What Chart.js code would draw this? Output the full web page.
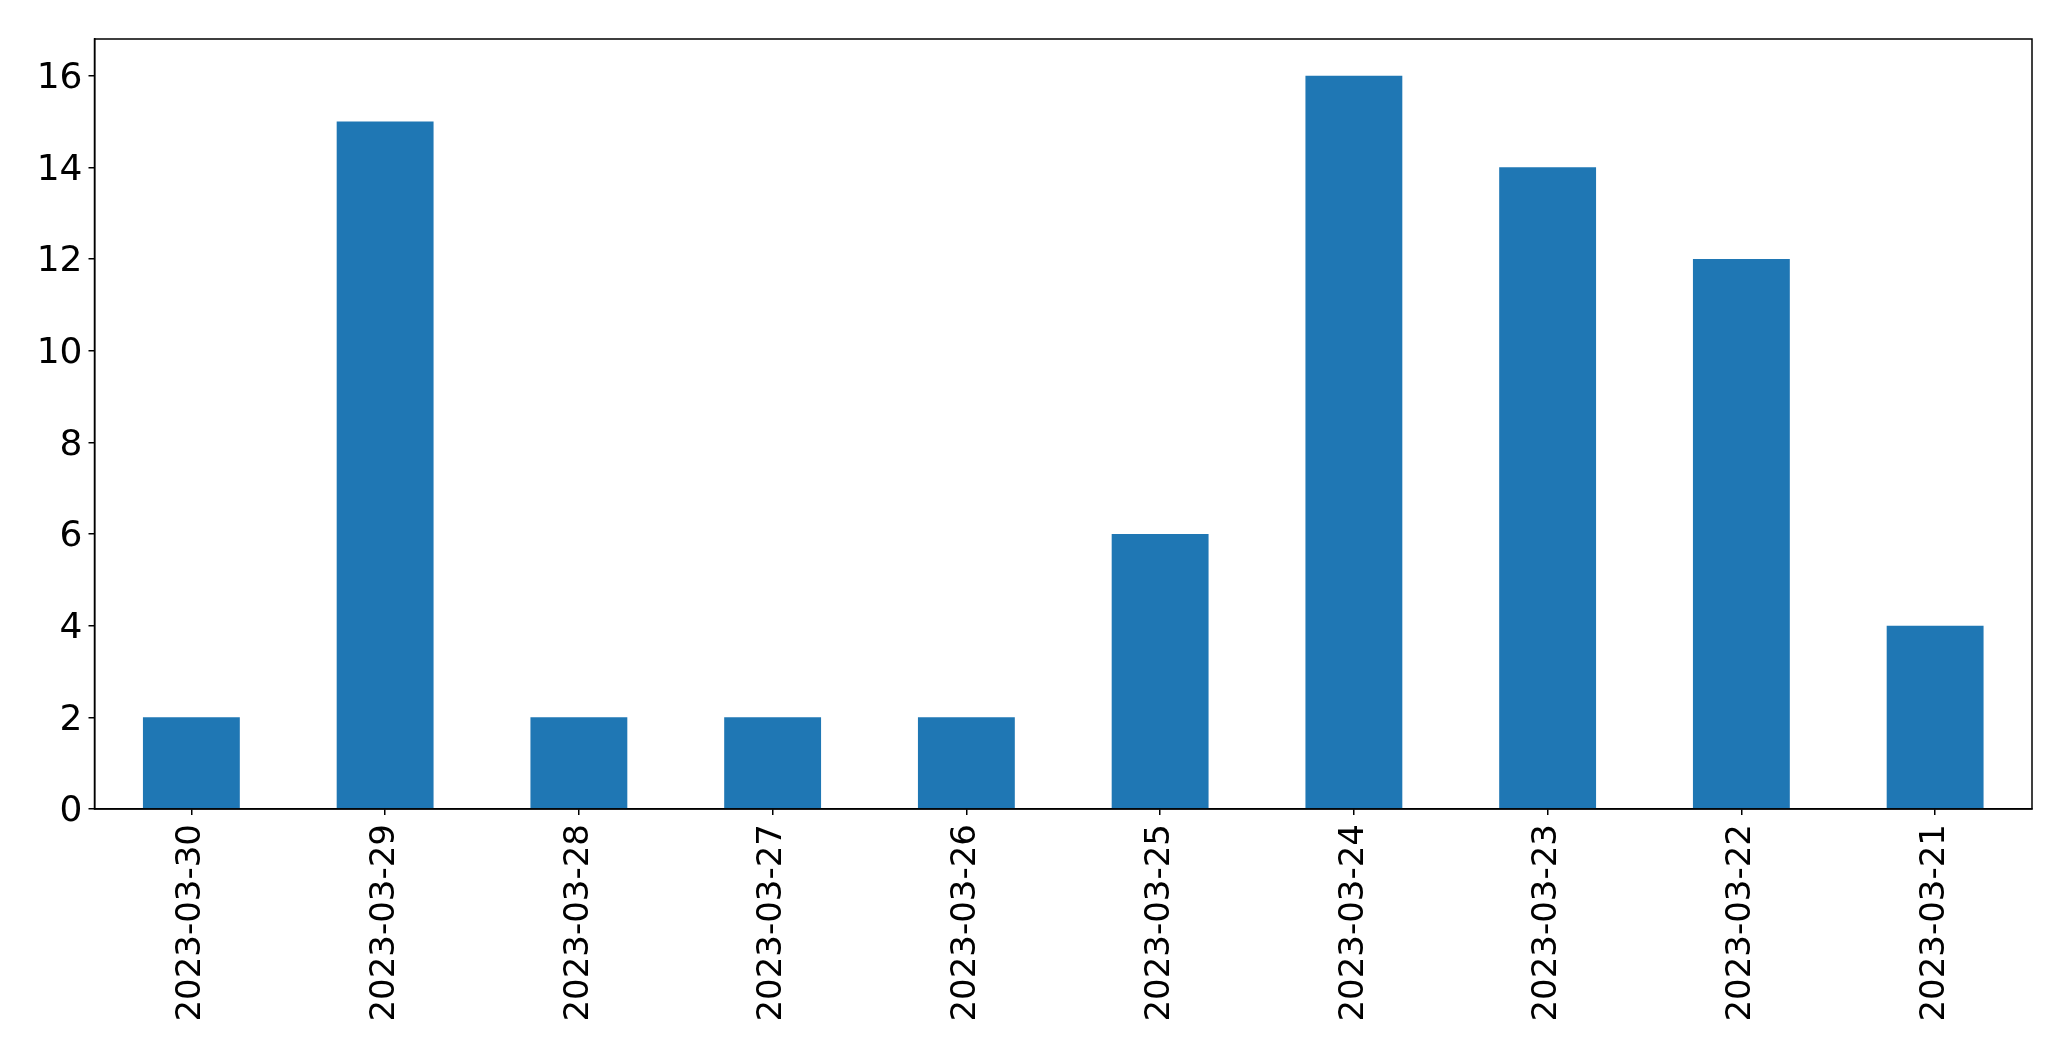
<!DOCTYPE html>
<html>
<head>
<meta charset="utf-8">
<script src="https://cdn.jsdelivr.net/npm/chart.js@4/dist/chart.umd.min.js"></script>
<style>
html,body{margin:0;padding:0;background:#fff;}
#wrap{width:2071px;height:1061px;}
</style>
</head>
<body>
<div id="wrap"><canvas id="c" width="2071" height="1061"></canvas></div>
<script>
const categories = ["2023-03-30","2023-03-29","2023-03-28","2023-03-27","2023-03-26","2023-03-25","2023-03-24","2023-03-23","2023-03-22","2023-03-21"];
const counts = [2, 15, 2, 2, 2, 6, 16, 14, 12, 4];
const yTicks = [0, 2, 4, 6, 8, 10, 12, 14, 16];

const frame = {
  id: 'frame',
  afterDraw(chart) {
    const a = chart.chartArea, ctx = chart.ctx;
    ctx.save();
    ctx.strokeStyle = '#000';
    ctx.lineWidth = 1.5;
    ctx.strokeRect(a.left, a.top, a.right - a.left, a.bottom - a.top);
    ctx.restore();
  }
};

new Chart(document.getElementById('c'), {
  type: 'bar',
  data: {
    labels: categories,
    datasets: [{
      data: counts,
      backgroundColor: '#1f77b4',
      borderWidth: 0,
      barPercentage: 0.5,
      categoryPercentage: 1.0
    }]
  },
  options: {
    responsive: false,
    animation: false,
    layout: { padding: { left: 0, top: 39, right: 39, bottom: 0 } },
    plugins: { legend: { display: false }, tooltip: { enabled: false } },
    scales: {
      x: {
        grid: { display: true, offset: false, drawOnChartArea: false, drawTicks: true, tickLength: 6, color: '#000', lineWidth: 1.5 },
        border: { display: true, color: '#000', width: 1.5 },
        ticks: { color: '#000', font: { family: 'DejaVu Sans', size: 34 }, minRotation: 90, maxRotation: 90, padding: 9, autoSkip: false },
        afterFit(scale) { scale.height = 1061 - 809; }
      },
      y: {
        min: 0,
        max: 16.8,
        afterBuildTicks(scale) { scale.ticks = yTicks.map(v => ({ value: v })); },
        grid: { display: true, drawOnChartArea: false, drawTicks: true, tickLength: 6, color: '#000', lineWidth: 1.5 },
        border: { display: true, color: '#000', width: 1.5 },
        ticks: { color: '#000', font: { family: 'DejaVu Sans', size: 36 }, padding: 6, labelOffset: 3 },
        afterFit(scale) { scale.width = 94.5; }
      }
    }
  },
  plugins: [frame]
});
</script>
</body>
</html>
